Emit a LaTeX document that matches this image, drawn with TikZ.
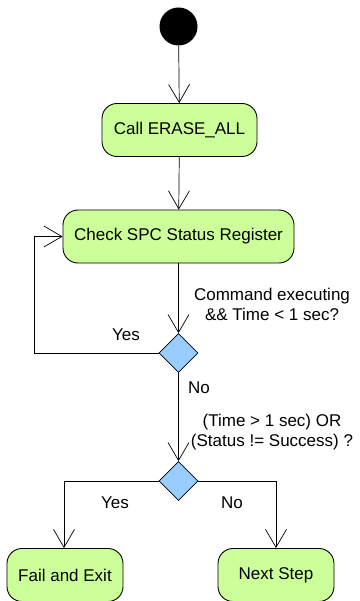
\documentclass[tikz,border=0pt]{standalone}
\usepackage{fontspec}
\setmainfont{Liberation Sans}
\usetikzlibrary{arrows.meta,shapes.geometric}
\definecolor{actfill}{HTML}{CCFF99}
\definecolor{decfill}{HTML}{99CCFF}
\begin{document}
\begin{tikzpicture}[x=1pt,y=-1pt,
  font=\fontsize{17}{20}\selectfont,
  action/.style={draw=black,line width=0.9pt,fill=actfill,rounded corners=15pt,
    minimum height=53pt,inner sep=0pt,align=center},
  decision/.style={draw=black,line width=0.7pt,fill=decfill,diamond,
    minimum width=39pt,minimum height=39pt,inner sep=0pt},
  flow/.style={line width=0.7pt,-{Straight Barb[length=18pt,width=21pt,line width=0.7pt]}},
  lbl/.style={inner sep=0pt,align=center}]
\useasboundingbox (0,0) rectangle (359,601);

% start state
\node[circle,fill=black,minimum size=38pt,inner sep=0pt] (start) at (178.5,26.5) {};

% actions
\node[action,minimum width=155pt] (erase) at (179.5,130) {Call ERASE\_ALL};
\node[action,minimum width=231pt] (check) at (178.5,236.5) {Check SPC Status Register};
\node[action,minimum width=116pt] (fail) at (65,575) {Fail and Exit};
\node[action,minimum width=116pt] (next) at (276,575) {Next Step};

% decisions
\node[decision] (busy) at (178.5,353) {};
\node[decision] (result) at (178.5,481) {};

% connectors
\draw[flow] (start) -- (erase);
\draw[flow] (erase) -- (check);
\draw[flow] (check) -- (busy);
\coordinate (loop) at (34,353);
\draw[flow] (busy.west) -- (loop) |- (check.west);
\draw[flow] (busy) -- (result);
\coordinate (lt) at (64,481);
\coordinate (rt) at (276,481);
\draw[flow] (result.west) -- (lt) -- (lt |- fail.north);
\draw[flow] (result.east) -- (rt) -- (rt |- next.north);

% guard labels
\node[lbl] (g1) at (272,304) {Command executing\\\&\& Time < 1 sec?};
\node[lbl] (y1) at (126,335) {Yes};
\node[lbl] (n1) at (199,388) {No};
\node[lbl] (g2) at (272,432.5) {(Time > 1 sec) OR\\(Status != Success) ?};
\node[lbl] (y2) at (115,503) {Yes};
\node[lbl] (n2) at (232,503) {No};
\end{tikzpicture}
\end{document}
